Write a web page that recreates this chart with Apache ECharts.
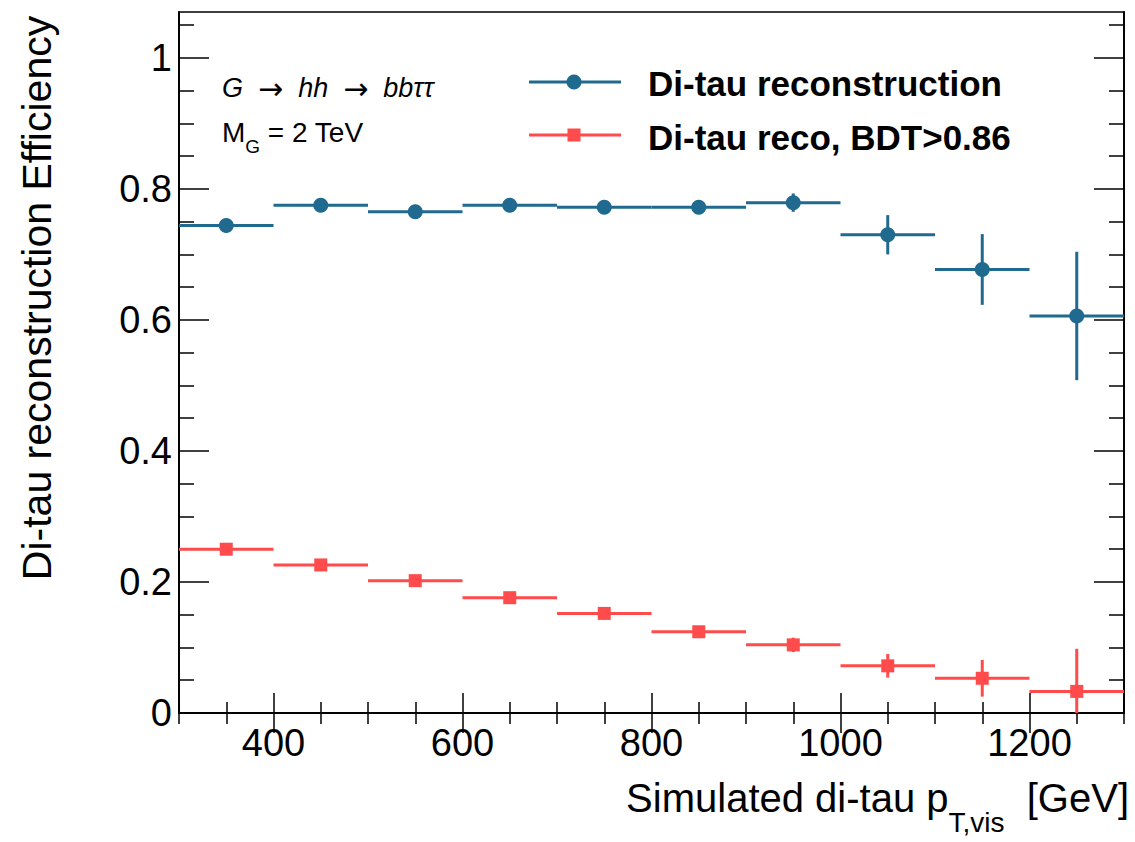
<!DOCTYPE html>
<html>
<head>
<meta charset="utf-8">
<title>Di-tau reconstruction efficiency</title>
<script src="https://cdn.jsdelivr.net/npm/echarts@6/dist/echarts.min.js"></script>
<style>
  html, body { margin: 0; padding: 0; background: #fff; }
  #chart { width: 1135px; height: 842px; }
</style>
</head>
<body>
<div id="chart"></div>
<script>
// Bin edges in simulated visible di-tau pT [GeV]
const binEdges = [300, 400, 500, 600, 700, 800, 900, 1000, 1100, 1200, 1300];

// Di-tau reconstruction efficiency and its statistical uncertainty per bin
const recoEff = [0.744, 0.775, 0.765, 0.775, 0.772, 0.772, 0.779, 0.730, 0.677, 0.606];
const recoErr = [0.006, 0.006, 0.006, 0.007, 0.008, 0.009, 0.014, 0.030, 0.054, 0.098];

// Efficiency after the BDT > 0.86 requirement
const bdtEff = [0.250, 0.226, 0.202, 0.176, 0.152, 0.124, 0.104, 0.072, 0.053, 0.033];
const bdtErr = [0.006, 0.006, 0.006, 0.006, 0.007, 0.008, 0.011, 0.018, 0.028, 0.065];

// Axis ticks
const xMajorTicks = [400, 600, 800, 1000, 1200];
const xMinorTicks = [300, 350, 450, 500, 550, 650, 700, 750, 850, 900, 950, 1050, 1100, 1150, 1250, 1300];
const yMajorTicks = [0, 0.2, 0.4, 0.6, 0.8, 1.0];
const yMinorTicks = [0.05, 0.1, 0.15, 0.25, 0.3, 0.35, 0.45, 0.5, 0.55, 0.65, 0.7, 0.75, 0.85, 0.9, 0.95, 1.05];

const BLUE = '#1f6a8e';
const RED = '#ff4b4b';
const FONT = 'Liberation Sans, Arial, Helvetica, sans-serif';

function binRows(eff, err) {
  return eff.map((v, i) => [binEdges[i], binEdges[i + 1], v, err[i]]);
}
function binPoints(eff) {
  return eff.map((v, i) => [(binEdges[i] + binEdges[i + 1]) / 2, v]);
}

// Horizontal bar spans the bin width, vertical bar the uncertainty
function errorBars(color) {
  return function (params, api) {
    const x0 = api.value(0), x1 = api.value(1), y = api.value(2), e = api.value(3);
    const xc = (x0 + x1) / 2;
    const cs = params.coordSys;
    const pL = api.coord([x0, y]);
    const pR = api.coord([x1, y]);
    const pT = api.coord([xc, y + e]);
    const pB = api.coord([xc, y - e]);
    const top = cs.y, bottom = cs.y + cs.height;
    const style = { stroke: color, lineWidth: 3 };
    return {
      type: 'group',
      children: [
        { type: 'line', shape: { x1: pL[0], y1: pL[1], x2: pR[0], y2: pR[1] }, style: style },
        { type: 'line', shape: { x1: pT[0], y1: Math.max(pT[1], top), x2: pB[0], y2: Math.min(pB[1], bottom) }, style: style }
      ]
    };
  };
}

const axisLineStyle = { color: '#000', width: 1.5 };
const tickStyle = { color: '#000', width: 1.5 };
const plainNumber = v => String(v);

function xAxisDef(position, ticks, len, withLabels) {
  return {
    type: 'value', min: 300, max: 1300, position: position,
    axisLine: { show: true, lineStyle: axisLineStyle },
    axisTick: { show: true, inside: true, length: len, customValues: ticks, lineStyle: tickStyle },
    axisLabel: withLabels
      ? { show: true, customValues: ticks, fontSize: 38, color: '#000', fontFamily: FONT, margin: 11, formatter: plainNumber }
      : { show: false },
    splitLine: { show: false }
  };
}
function yAxisDef(position, ticks, len, withLabels) {
  return {
    type: 'value', min: 0, max: 1.07, position: position,
    axisLine: { show: true, lineStyle: axisLineStyle },
    axisTick: { show: true, inside: true, length: len, customValues: ticks, lineStyle: tickStyle },
    axisLabel: withLabels
      ? { show: true, customValues: ticks, fontSize: 38, color: '#000', fontFamily: FONT, margin: 7, formatter: plainNumber }
      : { show: false },
    splitLine: { show: false }
  };
}

const chart = echarts.init(document.getElementById('chart'), null, { renderer: 'svg' });

chart.setOption({
  backgroundColor: '#fff',
  animation: false,
  grid: { left: 179, right: 11, top: 12, bottom: 129, show: true, borderColor: '#000', borderWidth: 1.5 },
  xAxis: [
    xAxisDef('bottom', xMajorTicks, 20, true),
    xAxisDef('bottom', xMinorTicks, 11, false),
    xAxisDef('top', xMajorTicks, 20, false),
    xAxisDef('top', xMinorTicks, 11, false)
  ],
  yAxis: [
    yAxisDef('left', yMajorTicks, 30, true),
    yAxisDef('left', yMinorTicks, 15, false),
    yAxisDef('right', yMajorTicks, 30, false),
    yAxisDef('right', yMinorTicks, 15, false)
  ],
  series: [
    {
      name: 'Di-tau reconstruction', type: 'custom',
      xAxisIndex: 0, yAxisIndex: 0,
      renderItem: errorBars(BLUE), data: binRows(recoEff, recoErr), z: 2
    },
    {
      name: 'Di-tau reconstruction', type: 'scatter',
      xAxisIndex: 0, yAxisIndex: 0,
      symbol: 'circle', symbolSize: 15,
      itemStyle: { color: BLUE, opacity: 1 },
      data: binPoints(recoEff), z: 3
    },
    {
      name: 'Di-tau reco, BDT>0.86', type: 'custom',
      xAxisIndex: 0, yAxisIndex: 0,
      renderItem: errorBars(RED), data: binRows(bdtEff, bdtErr), z: 2
    },
    {
      name: 'Di-tau reco, BDT>0.86', type: 'scatter',
      xAxisIndex: 0, yAxisIndex: 0,
      symbol: 'rect', symbolSize: 13,
      itemStyle: { color: RED, opacity: 1 },
      data: binPoints(bdtEff), z: 3
    }
  ],
  graphic: [
    // y-axis title
    {
      type: 'text', x: 37, y: 298, rotation: Math.PI / 2,
      style: {
        text: 'Di-tau reconstruction Efficiency', fill: '#000',
        font: '41px ' + FONT, align: 'center', verticalAlign: 'middle'
      }
    },
    // x-axis title with subscript
    {
      type: 'text', x: 1129, y: 778,
      style: {
        text: '{m|Simulated di-tau p}{s|T,vis}{m|  [GeV]}',
        align: 'right', verticalAlign: 'top', fill: '#000',
        rich: {
          m: { fontSize: 40, fontFamily: FONT, lineHeight: 42, verticalAlign: 'top', fill: '#000' },
          s: { fontSize: 28, fontFamily: FONT, lineHeight: 58, verticalAlign: 'bottom', fill: '#000' }
        }
      }
    },
    // process and mass annotation
    {
      type: 'text', x: 222, y: 72,
      style: {
        text: '{i|G  }{a|\u2192}{i|  hh  }{a|\u2192}{i|  bb\u03c4\u03c4}',
        align: 'left', verticalAlign: 'top', fill: '#000',
        rich: {
          i: { fontSize: 27, fontStyle: 'italic', fontFamily: FONT, lineHeight: 32, verticalAlign: 'middle', fill: '#000' },
          a: { fontSize: 30, fontFamily: 'DejaVu Sans, sans-serif', lineHeight: 32, verticalAlign: 'middle', fill: '#000' }
        }
      }
    },
    {
      type: 'text', x: 222, y: 118,
      style: {
        text: '{m|M}{s|G}{m| = 2 TeV}', align: 'left', verticalAlign: 'top', fill: '#000',
        rich: {
          m: { fontSize: 28, fontFamily: FONT, lineHeight: 28, verticalAlign: 'top', fill: '#000' },
          s: { fontSize: 19, fontFamily: FONT, lineHeight: 38, verticalAlign: 'bottom', fill: '#000' }
        }
      }
    },
    // legend entries
    { type: 'line', shape: { x1: 529, y1: 82, x2: 621, y2: 82 }, style: { stroke: BLUE, lineWidth: 3 } },
    { type: 'circle', shape: { cx: 574, cy: 82, r: 7.5 }, style: { fill: BLUE } },
    {
      type: 'text', x: 648, y: 83,
      style: { text: 'Di-tau reconstruction', fill: '#000', font: 'bold 35px ' + FONT, align: 'left', verticalAlign: 'middle' }
    },
    { type: 'line', shape: { x1: 529, y1: 135, x2: 621, y2: 135 }, style: { stroke: RED, lineWidth: 3 } },
    { type: 'rect', shape: { x: 567.5, y: 128.5, width: 13, height: 13 }, style: { fill: RED } },
    {
      type: 'text', x: 648, y: 137,
      style: { text: 'Di-tau reco, BDT>0.86', fill: '#000', font: 'bold 35px ' + FONT, align: 'left', verticalAlign: 'middle' }
    }
  ]
});
</script>
</body>
</html>
